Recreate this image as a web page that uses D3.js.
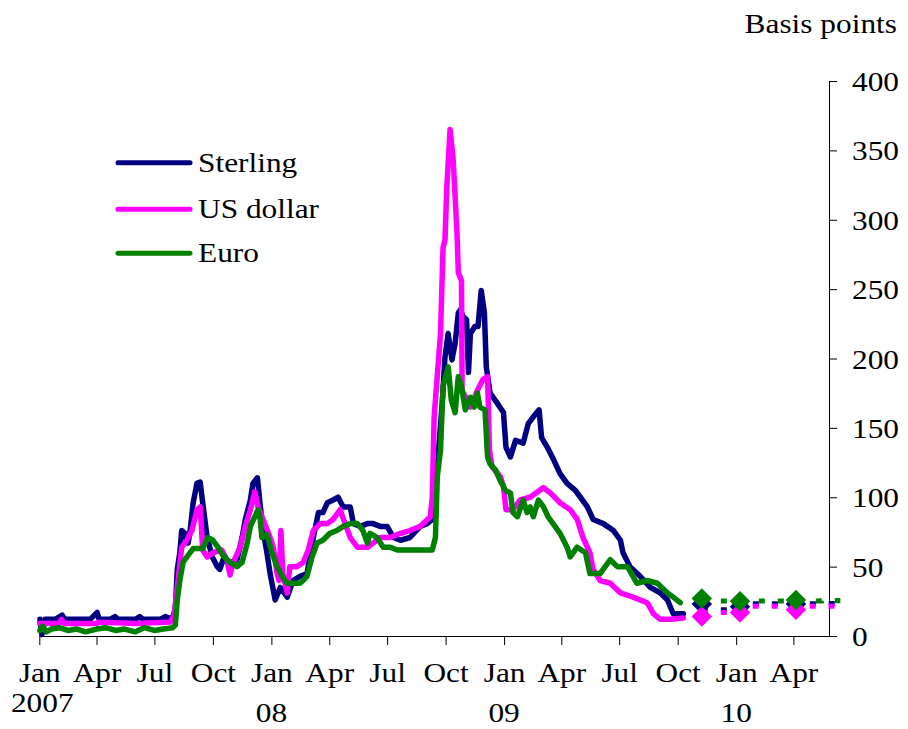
<!DOCTYPE html>
<html>
<head>
<meta charset="utf-8">
<script src="https://cdn.jsdelivr.net/npm/d3@7"></script>
<style>
  html, body { margin: 0; padding: 0; background: #fff; }
  svg { display: block; }
  text { font-family: "Liberation Serif", "Times New Roman", serif; fill: #000; }
</style>
</head>
<body>
<svg id="chart" width="908" height="729"></svg>
<script>
// ---------------- DATA ----------------
const seriesNames = ["Sterling", "US dollar", "Euro"];
const seriesColors = ["#000080", "#ff00ff", "#008000"];
const monthLabels = ["Jan", "Apr", "Jul", "Oct"];
const yearLabels = ["2007", "08", "09", "10"];
const yTickValues = [0, 50, 100, 150, 200, 250, 300, 350, 400];

const sterling = [
  ["2007-01-02",12],["2007-01-05",1],["2007-01-10",12],["2007-01-26",12],["2007-02-06",15],["2007-02-10",12],
  ["2007-03-06",12],["2007-03-22",12],["2007-04-02",17],["2007-04-05",12],["2007-04-22",12],["2007-04-30",14],
  ["2007-05-05",12],["2007-06-01",12],["2007-06-08",14],["2007-06-13",12],["2007-07-10",12],["2007-07-18",14],
  ["2007-07-29",12],["2007-08-03",20],["2007-08-06",48],["2007-08-10",60],["2007-08-13",76],["2007-08-18",74],
  ["2007-08-23",67],["2007-08-26",75],["2007-08-31",96],["2007-09-06",110],["2007-09-11",111],["2007-09-15",96],
  ["2007-09-22",71],["2007-09-30",57],["2007-10-08",50],["2007-10-12",48],["2007-10-17",55],["2007-10-28",53],
  ["2007-11-08",55],["2007-11-16",71],["2007-11-21",84],["2007-11-29",98],["2007-12-03",110],["2007-12-10",114],
  ["2007-12-14",96],["2007-12-19",76],["2007-12-25",60],["2007-12-30",45],["2008-01-07",26],["2008-01-15",35],
  ["2008-01-26",28],["2008-02-04",40],["2008-02-15",43],["2008-02-26",45],["2008-03-07",71],["2008-03-15",89],
  ["2008-03-22",89],["2008-03-29",96],["2008-04-07",98],["2008-04-15",100],["2008-04-23",93],["2008-05-04",93],
  ["2008-05-09",81],["2008-05-20",79],["2008-05-31",81],["2008-06-09",81],["2008-06-20",79],["2008-07-01",79],
  ["2008-07-11",71],["2008-07-22",69],["2008-08-06",71],["2008-08-22",79],["2008-09-02",81],["2008-09-10",84],
  ["2008-09-18",122],["2008-09-26",170],["2008-09-30",201],["2008-10-05",218],["2008-10-11",199],["2008-10-16",211],
  ["2008-10-21",233],["2008-10-24",235],["2008-10-29",230],["2008-11-03",228],["2008-11-06",190],["2008-11-09",218],
  ["2008-11-16",223],["2008-11-21",223],["2008-11-26",249],["2008-12-01",233],["2008-12-04",194],["2008-12-10",175],
  ["2008-12-21",168],["2008-12-31",161],["2009-01-04",136],["2009-01-11",129],["2009-01-19",141],["2009-01-31",139],
  ["2009-02-08",153],["2009-02-16",158],["2009-02-25",163],["2009-03-01",143],["2009-03-10",136],["2009-03-20",127],
  ["2009-03-30",117],["2009-04-10",110],["2009-04-23",105],["2009-05-01",100],["2009-05-12",93],["2009-05-21",84],
  ["2009-06-06",81],["2009-06-22",76],["2009-07-03",69],["2009-07-07",60],["2009-07-18",50],["2009-08-03",43],
  ["2009-08-19",35],["2009-09-04",31],["2009-09-15",26],["2009-09-24",16],["2009-10-10",16]
];

const usDollar = [
  ["2007-01-02",9],["2007-02-01",9],["2007-02-05",12],["2007-02-09",9],["2007-04-01",9],["2007-04-04",10],
  ["2007-06-01",9],["2007-07-26",10],["2007-08-01",15],["2007-08-06",35],["2007-08-13",64],["2007-08-21",69],
  ["2007-08-29",76],["2007-09-06",91],["2007-09-11",93],["2007-09-15",62],["2007-09-22",57],["2007-10-01",60],
  ["2007-10-15",62],["2007-10-23",55],["2007-10-28",44],["2007-11-02",53],["2007-11-13",64],["2007-11-21",79],
  ["2007-11-29",91],["2007-12-06",104],["2007-12-11",93],["2007-12-19",84],["2007-12-30",71],["2008-01-04",64],
  ["2008-01-10",45],["2008-01-13",40],["2008-01-16",76],["2008-01-19",45],["2008-01-26",31],["2008-01-30",50],
  ["2008-02-10",50],["2008-02-20",53],["2008-02-28",62],["2008-03-07",76],["2008-03-18",81],["2008-03-29",81],
  ["2008-04-07",84],["2008-04-18",91],["2008-04-26",81],["2008-05-04",71],["2008-05-15",64],["2008-05-31",64],
  ["2008-06-09",67],["2008-06-20",71],["2008-07-06",71],["2008-07-22",74],["2008-08-06",76],["2008-08-22",79],
  ["2008-09-07",86],["2008-09-10",100],["2008-09-13",158],["2008-09-23",218],["2008-09-27",280],["2008-09-30",285],
  ["2008-10-03",324],["2008-10-08",365],["2008-10-13",343],["2008-10-19",290],["2008-10-21",262],["2008-10-26",256],
  ["2008-10-27",177],["2008-11-04",170],["2008-11-09",165],["2008-11-20",177],["2008-11-29",185],["2008-12-06",187],
  ["2008-12-09",134],["2008-12-13",122],["2008-12-26",115],["2008-12-31",108],["2009-01-04",91],["2009-01-15",91],
  ["2009-01-26",98],["2009-02-11",100],["2009-03-04",107],["2009-03-15",103],["2009-03-30",96],["2009-04-15",91],
  ["2009-04-26",84],["2009-05-05",71],["2009-05-16",60],["2009-05-21",48],["2009-06-01",40],["2009-06-17",38],
  ["2009-07-03",31],["2009-07-23",28],["2009-08-14",24],["2009-08-24",16],["2009-09-04",12],["2009-09-20",12],
  ["2009-10-10",13]
];

const euro = [
  ["2007-01-02",4],["2007-01-06",7],["2007-01-12",3],["2007-01-20",5],["2007-02-01",6],["2007-02-15",4],
  ["2007-03-01",5],["2007-03-15",3],["2007-04-01",5],["2007-04-15",6],["2007-05-01",4],["2007-05-15",5],
  ["2007-06-01",3],["2007-06-15",6],["2007-07-01",4],["2007-07-15",5],["2007-07-30",6],["2007-08-03",8],
  ["2007-08-06",26],["2007-08-10",40],["2007-08-15",53],["2007-08-26",60],["2007-08-31",63],["2007-09-15",63],
  ["2007-09-23",71],["2007-10-01",69],["2007-10-09",64],["2007-10-17",58],["2007-10-28",53],["2007-11-08",50],
  ["2007-11-16",53],["2007-11-24",67],["2007-11-29",79],["2007-12-06",86],["2007-12-11",91],["2007-12-14",86],
  ["2007-12-17",71],["2007-12-25",73],["2008-01-02",60],["2008-01-10",50],["2008-01-18",43],["2008-01-26",38],
  ["2008-02-15",38],["2008-02-20",40],["2008-02-26",43],["2008-03-05",57],["2008-03-13",67],["2008-03-22",69],
  ["2008-04-02",74],["2008-04-13",76],["2008-04-23",79],["2008-05-04",81],["2008-05-15",81],["2008-05-24",76],
  ["2008-05-31",67],["2008-06-04",74],["2008-06-15",71],["2008-06-25",64],["2008-07-06",64],["2008-07-17",62],
  ["2008-09-10",62],["2008-09-15",71],["2008-09-18",115],["2008-09-23",134],["2008-09-27",180],["2008-10-05",194],
  ["2008-10-10",170],["2008-10-16",161],["2008-10-21",187],["2008-10-26",180],["2008-11-01",163],["2008-11-09",172],
  ["2008-11-15",165],["2008-11-20",175],["2008-11-24",165],["2008-12-02",163],["2008-12-06",129],["2008-12-10",124],
  ["2008-12-18",120],["2008-12-26",112],["2009-01-03",105],["2009-01-11",103],["2009-01-15",89],["2009-01-22",86],
  ["2009-01-31",98],["2009-02-06",89],["2009-02-11",93],["2009-02-16",86],["2009-02-24",98],["2009-03-04",93],
  ["2009-03-11",86],["2009-03-19",81],["2009-03-30",74],["2009-04-10",64],["2009-04-15",57],["2009-04-26",64],
  ["2009-05-09",60],["2009-05-16",45],["2009-06-01",45],["2009-06-17",55],["2009-06-28",50],["2009-07-14",50],
  ["2009-07-29",38],["2009-08-14",40],["2009-08-30",38],["2009-09-15",31],["2009-09-24",28],["2009-10-05",24]
];

// forward (dotted) curves and diamond markers
const forwardDates = ["2009-11-08", "2009-12-28", "2010-01-10", "2010-05-15", "2010-06-10"];
const sterlingForward = [19, 19.3, 23.3, 23.4, 25.4];
const usDollarForward = [17, 17.1, 21.4, 21.5, 22];
const euroForward = [25.3, 25.3, 25.3, 25.4, 27.7];

const markerDates = ["2009-11-08", "2010-01-07", "2010-04-05"];
const sterlingMarkers = [23, 21, 23];
const usDollarMarkers = [14, 17, 19];
const euroMarkers = [27, 25, 26];

// ---------------- CHART ----------------
const parse = d3.utcParse("%Y-%m-%d");
const svg = d3.select("#chart");
const FS = 28, SX = 1.12, LW = 5.5;

const x = d3.scaleUtc()
  .domain([parse("2007-01-01"), parse("2010-05-27")])
  .range([39.3, 829]);
const y = d3.scaleLinear().domain([0, 400]).range([636, 81]);

// X axis
const tickDates = d3.utcMonth.every(3).range(parse("2007-01-01"), parse("2010-05-01"));
const xAxis = d3.axisBottom(x)
  .tickValues(tickDates)
  .tickFormat(d => monthLabels[Math.floor(d.getUTCMonth() / 3)])
  .tickSize(9)
  .tickSizeOuter(0);
const gx = svg.append("g").attr("transform", "translate(0,636)").call(xAxis);
gx.select(".domain").attr("stroke", "#000");
gx.selectAll(".tick line").attr("stroke", "#000");
gx.selectAll(".tick text")
  .attr("y", 46).attr("dy", 0)
  .attr("font-size", FS)
  .attr("font-family", "'Liberation Serif','Times New Roman',serif")
  .attr("transform", `scale(${SX},1)`);

// year labels
const yearDates = ["2007-01-01", "2008-01-01", "2009-01-01", "2010-01-01"];
svg.append("g").selectAll("text").data(yearLabels).join("text")
  .attr("text-anchor", "middle")
  .attr("font-size", FS)
  .attr("transform", (d, i) => `translate(${x(parse(yearDates[i])) + (i === 0 ? 3 : 0)},${i === 0 ? 712 : 722}) scale(${SX},1)`)
  .text(d => d);

// Y axis (right)
const yAxis = d3.axisRight(y)
  .tickValues(yTickValues)
  .tickSize(8)
  .tickSizeOuter(0);
const gy = svg.append("g").attr("transform", "translate(829,0)").call(yAxis);
gy.select(".domain").attr("stroke", "#000");
gy.selectAll(".tick line").attr("stroke", "#000");
gy.selectAll(".tick text")
  .attr("x", 23 / SX).attr("dy", "0.34em")
  .attr("text-anchor", "start")
  .attr("font-size", FS)
  .attr("font-family", "'Liberation Serif','Times New Roman',serif")
  .attr("transform", `scale(${SX},1)`);

// unit label
svg.append("text")
  .attr("text-anchor", "end")
  .attr("font-size", FS)
  .attr("transform", `translate(897,33) scale(${SX},1)`)
  .text("Basis points");

// series lines
const allSeries = [sterling, usDollar, euro];
const line = d3.line().x(d => x(parse(d[0]))).y(d => y(d[1]));
allSeries.forEach((s, i) => {
  svg.append("path")
    .attr("d", line(s))
    .attr("fill", "none")
    .attr("stroke", seriesColors[i])
    .attr("stroke-width", LW)
    .attr("stroke-linejoin", "round")
    .attr("stroke-linecap", "round");
});

// forward dotted lines
const forwards = [sterlingForward, usDollarForward, euroForward];
const fLine = d3.line().x(d => x(parse(d[0]))).y(d => y(d[1])).curve(d3.curveStepAfter);
forwards.forEach((vals, i) => {
  const pts = forwardDates.map((d, k) => [d, vals[k]]);
  svg.append("path")
    .attr("d", fLine(pts))
    .attr("fill", "none")
    .attr("stroke", seriesColors[i])
    .attr("stroke-width", 5)
    .attr("stroke-dasharray", "6,13");
});

// diamond markers
const markers = [sterlingMarkers, usDollarMarkers, euroMarkers];
const diamond = d3.symbol().type(d3.symbolSquare).size(210);
markers.forEach((vals, i) => {
  svg.append("g").selectAll("path").data(vals).join("path")
    .attr("d", diamond)
    .attr("fill", seriesColors[i])
    .attr("transform", (v, k) => `translate(${x(parse(markerDates[k]))},${y(v)}) rotate(45)`);
});

// legend
const legendY = [162.7, 209.3, 253.3];
const lg = svg.append("g");
seriesNames.forEach((name, i) => {
  lg.append("line")
    .attr("x1", 118).attr("x2", 190)
    .attr("y1", legendY[i]).attr("y2", legendY[i])
    .attr("stroke", seriesColors[i])
    .attr("stroke-width", 5)
    .attr("stroke-linecap", "round");
  lg.append("text")
    .attr("font-size", FS)
    .attr("transform", `translate(198,${legendY[i] + 9}) scale(${SX},1)`)
    .text(name);
});
</script>
</body>
</html>
